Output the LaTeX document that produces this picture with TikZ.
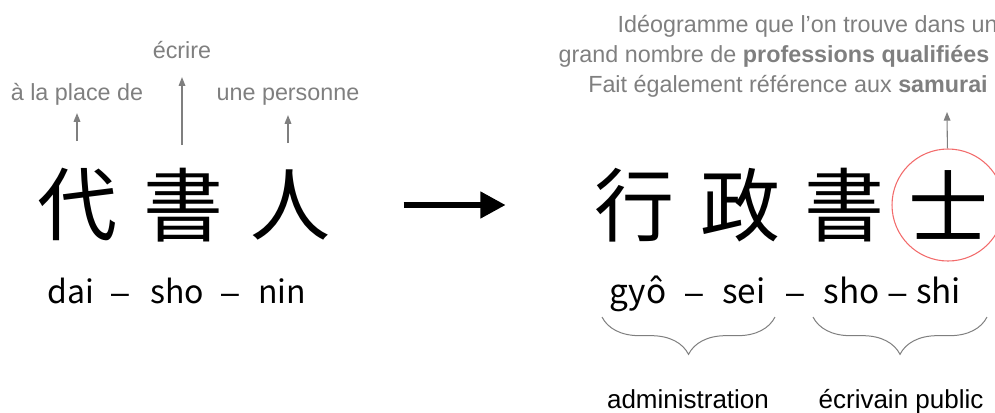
\documentclass[tikz,border=0pt]{standalone}
\usepackage{fontspec}
\setmainfont{Liberation Sans}
\newfontfamily\jpfont{Noto Sans CJK JP}
\usetikzlibrary{arrows.meta,decorations.pathreplacing}
\definecolor{txtgray}{HTML}{7F7F7F}
\definecolor{ringred}{HTML}{F26B6B}

\begin{document}
\begin{tikzpicture}[x=0.75pt,y=-0.75pt,
  kj/.style={font=\jpfont\fontsize{60}{60}\selectfont,inner sep=0pt},
  py/.style={font=\jpfont\fontsize{24}{24}\selectfont,inner sep=0pt,anchor=base},
  pyr/.style={py,font=\jpfont\fontsize{25}{25}\selectfont},
  dsh/.style={font=\rmfamily\fontsize{24}{24}\selectfont,inner sep=0pt,anchor=base},
  gl/.style={font=\fontsize{17.5}{22.5}\selectfont,text=txtgray,inner sep=0pt,anchor=base},
  lab/.style={font=\fontsize{19.5}{22}\selectfont,inner sep=0pt,anchor=base},
  ga/.style={draw=txtgray,line width=0.8pt,-{Triangle[width=5pt,length=6.5pt]}},
  br/.style={draw=txtgray,line width=0.75pt,decorate,decoration={brace,mirror,amplitude=28pt}}]
  \useasboundingbox (0,0) rectangle (995,412);

  % old word
  \node[kj] (dai) at (77,205) {代};
  \node[kj] (sho) at (183,205) {書};
  \node[kj] (jin) at (290,205) {人};

  \node[py] (rdai) at (71,303) {dai};
  \node[dsh] (rd1) at (120,303) {–};
  \node[py] (rsho) at (177,303) {sho};
  \node[dsh] (rd2) at (230,303) {–};
  \node[py] (rnin) at (282,303) {nin};

  \node[gl] (place) at (77,100) {à la place de};
  \node[gl] (ecrire) at (182,58) {écrire};
  \node[gl] (pers) at (288,100) {une personne};
  \coordinate (up1) at (77,141);
  \coordinate (up2) at (182,145);
  \coordinate (up3) at (288,143);
  \draw[ga,shorten >=6pt] (up1) -- (place);
  \draw[ga,shorten >=14pt] (up2) -- (ecrire);
  \draw[ga,shorten >=7.5pt] (up3) -- (pers);

  % new word
  \node[kj] (gyo) at (634,205) {行};
  \node[kj] (sei) at (740,205) {政};
  \node[kj] (sho2) at (844,205) {書};
  \node[kj,circle,draw=ringred,line width=0.8pt,minimum size=84pt] (shi) at (948,205) {士};

  \node[pyr] (rgyo) at (638,303) {gyô};
  \node[dsh] (rd3) at (694,303) {–};
  \node[pyr] (rsei) at (744,303) {sei};
  \node[dsh] (rd4) at (795,303) {–};
  \node[pyr] (rsho2) at (851.5,303) {sho};
  \node[dsh] (rd5) at (897.5,303) {–};
  \node[pyr] (rshi) at (938.5,303) {shi};

  \draw[line width=5pt,-{Triangle[width=19pt,length=19pt]},shorten <=55pt,shorten >=66pt] (jin) -- (gyo);

  \node[gl,anchor=base east] (ideo1) at (998,32) {Idéogramme que l’on trouve dans un};
  \node[gl] (ideo2) at (774,62) {grand nombre de \textbf{professions qualifiées}};
  \node[gl,anchor=base east] (ideo3) at (988,92) {Fait également référence aux \textbf{samurai}};
  \coordinate (up4) at (947,112);
  \draw[ga] (shi) -- (up4);

  % braces
  \coordinate (bl1) at (602,317);
  \coordinate (bl2) at (775,317);
  \coordinate (bl3) at (813,317);
  \coordinate (bl4) at (987,317);
  \draw[br] (bl1) -- (bl2);
  \draw[br] (bl3) -- (bl4);
  \node[lab] (admin) at (688,408) {administration};
  \node[lab] (ecriv) at (901,408) {écrivain public};
\end{tikzpicture}
\end{document}
